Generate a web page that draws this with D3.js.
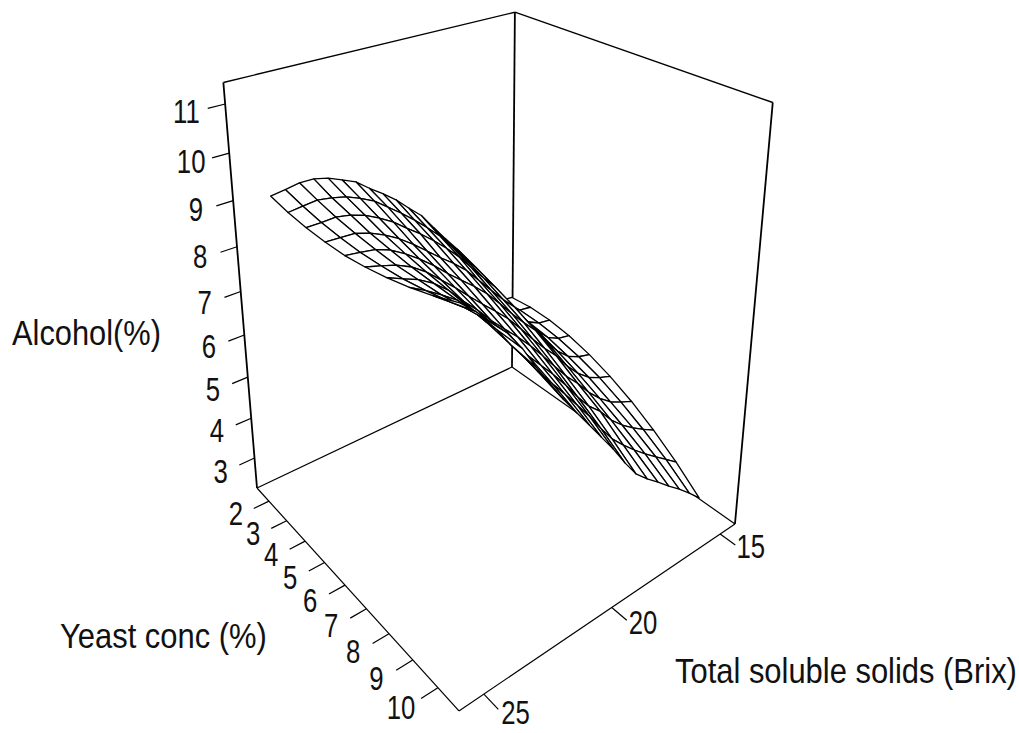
<!DOCTYPE html>
<html>
<head>
<meta charset="utf-8">
<script src="https://cdn.jsdelivr.net/npm/d3@7/dist/d3.min.js"></script>
<style>
  html, body { margin: 0; background: #fff; }
  svg { display: block; }
  text { font-family: "Liberation Sans", Arial, sans-serif; fill: #111; }
</style>
</head>
<body>
<div id="chart"></div>
<script>
const yeastTicks = [2, 3, 4, 5, 6, 7, 8, 9, 10];
const brixTicks = [25, 20, 15];
const alcoholTicks = [3, 4, 5, 6, 7, 8, 9, 10, 11];

// surface grid
const yeastLevels = [2, 2.89, 3.78, 4.67, 5.56, 6.44, 7.33, 8.22, 9.11, 10];
const brixLevels = [25, 24.47, 23.95, 23.42, 22.89, 22.37, 21.84, 21.32, 20.79, 20.26,
  19.74, 19.21, 18.68, 18.16, 17.63, 17.11, 16.58, 16.05, 15.53, 15];
const alcohol = [
  [9.13, 9.17, 9.22, 9.21, 9.13, 9.00, 8.86, 8.62, 8.40, 8.16, 7.87, 7.59, 7.19, 6.81, 6.45, 5.97, 5.41, 4.85, 4.67, 4.62],
  [9.04, 9.07, 9.10, 9.05, 8.97, 8.84, 8.68, 8.45, 8.21, 7.95, 7.67, 7.37, 7.00, 6.63, 6.28, 5.82, 5.33, 4.88, 4.72, 4.67],
  [8.99, 8.99, 9.00, 8.94, 8.83, 8.67, 8.48, 8.24, 8.01, 7.75, 7.47, 7.16, 6.79, 6.44, 6.10, 5.67, 5.23, 4.85, 4.70, 4.65],
  [8.97, 8.95, 8.93, 8.83, 8.68, 8.50, 8.27, 8.02, 7.76, 7.52, 7.25, 6.90, 6.55, 6.22, 5.91, 5.47, 5.08, 4.78, 4.63, 4.57],
  [8.98, 8.93, 8.88, 8.76, 8.57, 8.35, 8.10, 7.82, 7.56, 7.30, 7.02, 6.68, 6.32, 5.99, 5.68, 5.27, 4.91, 4.64, 4.50, 4.42],
  [9.04, 8.95, 8.85, 8.70, 8.48, 8.21, 7.93, 7.63, 7.34, 7.06, 6.77, 6.42, 6.05, 5.71, 5.40, 5.02, 4.70, 4.46, 4.32, 4.21],
  [9.13, 8.99, 8.86, 8.67, 8.41, 8.08, 7.77, 7.43, 7.12, 6.82, 6.50, 6.14, 5.76, 5.40, 5.09, 4.74, 4.45, 4.22, 4.07, 3.94],
  [9.25, 9.07, 8.87, 8.65, 8.33, 7.97, 7.61, 7.23, 6.89, 6.55, 6.21, 5.84, 5.43, 5.07, 4.80, 4.45, 4.18, 3.96, 3.77, 3.60],
  [9.40, 9.17, 8.93, 8.65, 8.28, 7.85, 7.45, 7.03, 6.66, 6.29, 5.91, 5.52, 5.09, 4.70, 4.40, 4.13, 3.88, 3.65, 3.43, 3.20],
  [9.59, 9.31, 8.99, 8.67, 8.25, 7.75, 7.29, 6.83, 6.41, 6.00, 5.59, 5.17, 4.71, 4.30, 4.02, 3.78, 3.52, 3.28, 3.02, 2.73],
];

const width = 1019;
const height = 733;

// box coordinates 0..1
const yeastScale = d3.scaleLinear().domain([1.3, 10.8]).range([0, 1]);
const brixScale = d3.scaleLinear().domain([25.88, 14.25]).range([0, 1]);
const alcoholScale = d3.scaleLinear().domain([2.23, 11.43]).range([0, 1]);

// perspective camera fitted to the box corners
function depth(u, v, t) {
  return 1 - 0.2119 * u + 0.168 * v - 0.127 * t;
}
function project(u, v, t) {
  const w = depth(u, v, t);
  return [
    (257 + 104.7 * u + 341.0 * v - 62 * t) / w,
    (488 + 72.3 * u - 59.3 * v - 416 * t) / w,
  ];
}

const svg = d3.select("#chart").append("svg").attr("width", width).attr("height", height);
const line = d3.line();

function edge(from, to, sw) {
  svg.append("path")
    .attr("d", line([project(...from), project(...to)]))
    .attr("fill", "none")
    .attr("stroke", "#000")
    .attr("stroke-width", sw);
}

// box
edge([0, 0, 0], [1, 0, 0], 1.2);
edge([1, 0, 0], [1, 1, 0], 1.2);
edge([0, 0, 0], [0, 1, 0], 1.2);
edge([0, 1, 0], [1, 1, 0], 1.2);
edge([0, 0, 0], [0, 0, 1], 1.8);
edge([0, 1, 0], [0, 1, 1], 1.8);
edge([1, 1, 0], [1, 1, 1], 1.8);
edge([0, 0, 1], [0, 1, 1], 1.4);
edge([0, 1, 1], [1, 1, 1], 1.4);

// ticks and their numbers
function tickLabel(p, s) {
  svg.append("text")
    .attr("transform", `translate(${p[0]},${p[1]}) scale(0.78,1)`)
    .attr("text-anchor", "middle")
    .attr("dy", "0.28em")
    .attr("font-size", 33)
    .text(s);
}

alcoholTicks.forEach((d) => {
  const t = alcoholScale(d);
  edge([0, 0, t], [0, -0.05, t], 1.2);
  tickLabel(project(0, -0.11, t), d);
});
yeastTicks.forEach((d) => {
  const u = yeastScale(d);
  edge([u, 0, 0], [u, -0.05, 0], 1.2);
  tickLabel(project(u - 0.005, -0.105, 0), d);
});
brixTicks.forEach((d) => {
  const v = brixScale(d);
  edge([1, v, 0], [1.055, v, 0], 1.2);
  tickLabel(project(1.092, v + 0.022, 0), d);
});

// axis titles, squeezed to the width they have in the picture
function title(x, y, w, s) {
  const node = svg.append("text")
    .attr("font-size", 35)
    .text(s);
  const k = w / node.node().getComputedTextLength();
  node.attr("transform", `translate(${x},${y}) scale(${k},1)`);
}
title(12, 345, 149, "Alcohol(%)");
title(60, 648, 207, "Yeast conc (%)");
title(675, 683, 342, "Total soluble solids (Brix)");

// surface cells, far ones first so nearer cells cover them
const cells = [];
yeastLevels.slice(1).forEach((_, j) => {
  brixLevels.slice(1).forEach((_, i) => {
    const corners = [[j, i], [j + 1, i], [j + 1, i + 1], [j, i + 1]].map(([a, b]) => [
      yeastScale(yeastLevels[a]),
      brixScale(brixLevels[b]),
      alcoholScale(alcohol[a][b]),
    ]);
    cells.push({
      corners,
      far: d3.mean(corners, (c) => depth(...c)),
    });
  });
});
cells.sort((a, b) => d3.descending(a.far, b.far));

svg.append("g")
  .selectAll("path")
  .data(cells)
  .join("path")
  .attr("d", (d) => line.curve(d3.curveLinearClosed)(d.corners.map((c) => project(...c))))
  .attr("fill", "#fff")
  .attr("stroke", "#000")
  .attr("stroke-width", 1.3)
  .attr("stroke-linejoin", "round");
</script>
</body>
</html>
